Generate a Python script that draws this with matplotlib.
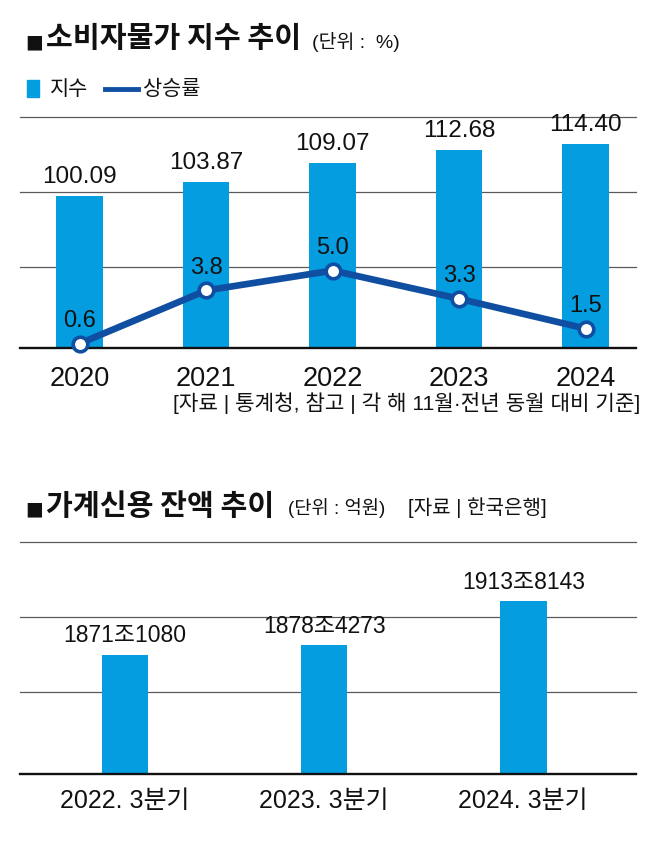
import matplotlib
matplotlib.use("Agg")
from matplotlib import pyplot as plt
from matplotlib.patches import Rectangle
from matplotlib.lines import Line2D

# consumer price index (bars) and yearly rise rate (line)
years = ["2020", "2021", "2022", "2023", "2024"]
index_values = [100.09, 103.87, 109.07, 112.68, 114.40]
rate_values = [0.6, 3.8, 5.0, 3.3, 1.5]

# household credit balance: 조 and 억 parts
quarters = ["2022. 3분기", "2023. 3분기", "2024. 3분기"]
credit_jo = [1871, 1878, 1913]
credit_eok = [1080, 4273, 8143]

BAR = "#049de0"
LINE = "#104ea2"
INK = "#111111"
GRID = "#5a5a5a"

KR = "Noto Sans CJK KR"
MIX = ["Liberation Sans", KR]

W, H = 658, 846


def fx(x):
    return x / W


def fy(y):
    return 1 - y / H


def clean(ax):
    for sp in ax.spines.values():
        sp.set_visible(False)
    ax.set_yticks([])
    ax.patch.set_visible(False)


def frame_lines(ax, fracs):
    lo, hi = ax.get_ylim()
    for f in fracs:
        ax.axhline(lo + f * (hi - lo), color=GRID, lw=0.9, zorder=0, clip_on=False)
    ax.axhline(lo, color=INK, lw=1.7, zorder=4, clip_on=False)


fig = plt.figure(figsize=(W / 100, H / 100), dpi=100)

# ---- titles and legend ----
fig.text(fx(25), fy(41.5), "■", fontsize=13.5, family="DejaVu Sans", color=INK, va="center")
fig.text(fx(46), fy(38.5), "소비자물가 지수 추이", fontsize=21, fontweight="bold",
         family=KR, color=INK, va="center")
fig.text(fx(312), fy(42), "(단위 :  %)", fontsize=14, family=MIX, color=INK, va="center")

fig.patches.append(Rectangle((fx(26.7), fy(97.3)), 12.6 / W, 17.3 / H, color=BAR,
                             transform=fig.transFigure))
fig.text(fx(50), fy(89), "지수", fontsize=15, family=KR, color=INK, va="center")
fig.lines.append(Line2D([fx(105), fx(138)], [fy(89.3), fy(89.3)], lw=3.5, color=LINE,
                        transform=fig.transFigure))
fig.text(fx(143), fy(89), "상승률", fontsize=15, family=KR, color=INK, va="center")

# ---- top chart ----
ax = fig.add_axes([fx(20), fy(348), 616 / W, 231 / H])
xs = list(range(len(years)))
ax.bar(xs, index_values, width=0.368, color=BAR, zorder=2)
ax.set_xlim(-0.472, 4.398)
ax.set_ylim(58.6, 121.7)
clean(ax)
frame_lines(ax, (0.351, 0.674, 1.0))
for i, v in enumerate(index_values):
    ax.annotate(f"{v:.2f}", (i, v), xytext=(0, 9.5), textcoords="offset points",
                ha="center", va="baseline", fontsize=17.5, family=MIX, color=INK)
ax.set_xticks(xs, years)
ax.tick_params(axis="x", length=0, pad=13, labelsize=19.5, colors=INK)
for t in ax.get_xticklabels():
    t.set_family(MIX)

ax2 = ax.twinx()
ax2.set_ylim(0.33, 14.26)
clean(ax2)
ax2.plot(xs, rate_values, color=LINE, lw=4.8, marker="o", ms=10.5, mfc="white",
         mec=LINE, mew=2.6, zorder=5, clip_on=False)
for i, v in enumerate(rate_values):
    ax2.annotate(f"{v:.1f}", (i, v), xytext=(0, 12), textcoords="offset points",
                 ha="center", va="baseline", fontsize=17, family=MIX, color=INK)

fig.text(fx(640), fy(403), "[자료 | 통계청, 참고 | 각 해 11월·전년 동월 대비 기준]",
         ha="right", va="center", fontsize=15.3, family=MIX, color=INK)

# ---- bottom chart ----
fig.text(fx(25), fy(508.5), "■", fontsize=13.5, family="DejaVu Sans", color=INK, va="center")
fig.text(fx(46), fy(505.5), "가계신용 잔액 추이", fontsize=21, fontweight="bold",
         family=KR, color=INK, va="center")
fig.text(fx(288), fy(508), "(단위 : 억원)", fontsize=13.5, family=MIX, color=INK, va="center")
fig.text(fx(408), fy(508), "[자료 | 한국은행]", fontsize=14.5, family=MIX, color=INK, va="center")

credit = [j + e / 10000 for j, e in zip(credit_jo, credit_eok)]
bx = fig.add_axes([fx(20), fy(774), 616 / W, 232 / H])
qs = list(range(len(quarters)))
bx.bar(qs, credit, width=0.234, color=BAR, zorder=2)
bx.set_xlim(-0.527, 2.566)
bx.set_ylim(1775.9, 1961.0)
clean(bx)
frame_lines(bx, (0.353, 0.677, 1.0))
for i, (v, j, e) in enumerate(zip(credit, credit_jo, credit_eok)):
    bx.annotate(f"{j}조{e}", (i, v), xytext=(0, 9), textcoords="offset points",
                ha="center", va="baseline", fontsize=16.5, family=MIX, color=INK)
bx.set_xticks(qs, quarters)
bx.tick_params(axis="x", length=0, pad=11, labelsize=18, colors=INK)
for t in bx.get_xticklabels():
    t.set_family(MIX)

plt.savefig("out.png", dpi=100)
plt.close()
